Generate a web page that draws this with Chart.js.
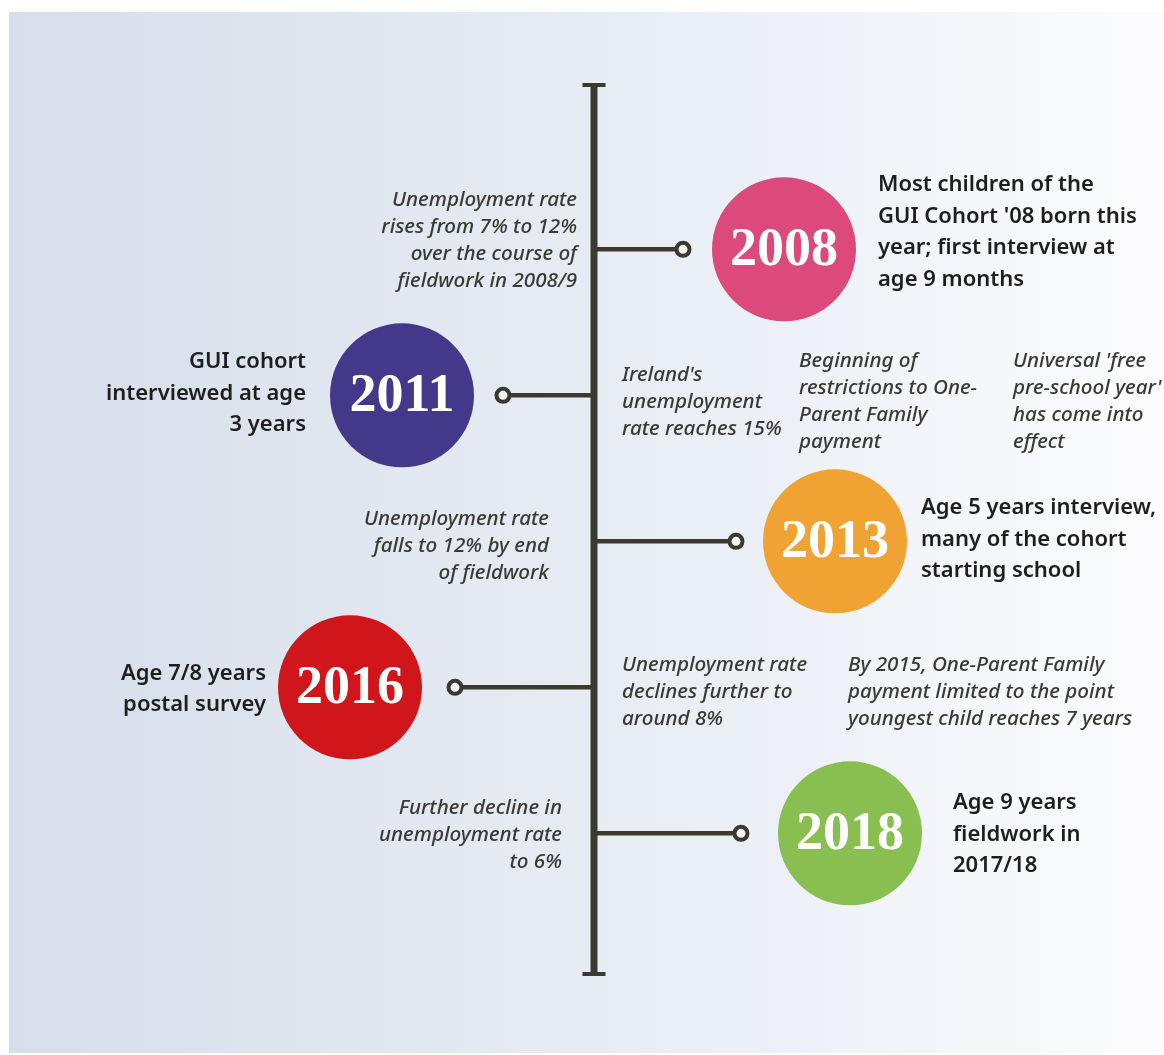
<!DOCTYPE html>
<html>
<head>
<meta charset="utf-8">
<title>GUI Cohort '08 timeline</title>
<script src="https://cdn.jsdelivr.net/npm/chart.js@4.4.1/dist/chart.umd.min.js"></script>
<style>
  body { margin: 0; background: #fff; }
  canvas { display: block; }
</style>
</head>
<body>
<canvas id="myCanvas" width="1164" height="1055"></canvas>
<script>
'use strict';

// --- timeline data ---
let years = ['2008', '2011', '2013', '2016', '2018'];
let yearColors = ['#dc4a7b', '#44388b', '#f0a232', '#d1161b', '#88bf50'];

let milestones = [
	['Most children of the', "GUI Cohort '08 born this", 'year; first interview at', 'age 9 months'],
	['GUI cohort', 'interviewed at age', '3 years'],
	['Age 5 years interview,', 'many of the cohort', 'starting school'],
	['Age 7/8 years', 'postal survey'],
	['Age 9 years', 'fieldwork in', '2017/18']
];

let contextNotes = [
	[['Unemployment rate', 'rises from 7% to 12%', 'over the course of', 'fieldwork in 2008/9']],
	[["Ireland's", 'unemployment', 'rate reaches 15%'],
	 ['Beginning of', 'restrictions to One-', 'Parent Family', 'payment'],
	 ["Universal 'free", "pre-school year'", 'has come into', 'effect']],
	[['Unemployment rate', 'falls to 12% by end', 'of fieldwork']],
	[['Unemployment rate', 'declines further to', 'around 8%'],
	 ['By 2015, One-Parent Family', 'payment limited to the point', 'youngest child reaches 7 years']],
	[['Further decline in', 'unemployment rate', 'to 6%']]
];

// --- layout (x in page units, spine in the middle) ---
let spineX = 594;
let side = [1, -1, 1, -1, 1];
let ringOffset = [89, 91, 142, 139, 147];
let discOffset = [190, 192, 241, 244, 256];
// milestone text: anchor x, vertical shift of block centre
let mileX = [878, 306, 921, 266, 953];
let mileDy = [-17, -2, -2, 2, 1];
// notes: [anchor x, align, dy] per block
let noteLayout = [
	[[577, 'right', -9]],
	[[622, 'left', 7], [799, 'left', 6], [1013, 'left', 6]],
	[[549, 'right', 5]],
	[[622, 'left', 5], [848, 'left', 5]],
	[[562, 'right', 2]]
];

let ink = '#3b3a2f';
let rows = years.map(function(y, i) { return i; });

let datasets = [];
rows.forEach(function(i) {
	datasets.push({
		type: 'line',
		data: [{x: spineX, y: i}, {x: spineX + side[i] * ringOffset[i], y: i}],
		borderColor: ink,
		borderWidth: 4.5,
		pointRadius: 0,
		order: 3
	});
});
datasets.push({
	type: 'scatter',
	data: rows.map(function(i) { return {x: spineX + side[i] * ringOffset[i], y: i}; }),
	pointRadius: 6.5,
	pointBackgroundColor: '#f3f5f9',
	pointBorderColor: ink,
	pointBorderWidth: 4,
	order: 2
});
datasets.push({
	type: 'scatter',
	data: rows.map(function(i) { return {x: spineX + side[i] * discOffset[i], y: i}; }),
	pointRadius: 72,
	pointBackgroundColor: yearColors,
	pointBorderWidth: 0,
	order: 1
});

let timeline = {
	id: 'timeline',
	beforeDraw: function(chart) {
		let c = chart.ctx;
		c.save();
		c.fillStyle = '#ffffff';
		c.fillRect(0, 0, chart.width, chart.height);
		let g = c.createLinearGradient(9, 0, 1164, 0);
		g.addColorStop(0, '#d5deea');
		g.addColorStop(0.35, '#e2e8f1');
		g.addColorStop(0.65, '#ecf0f6');
		g.addColorStop(1, '#fcfcfe');
		c.fillStyle = g;
		c.fillRect(9, 12, 1155, 1041);
		c.restore();
	},
	beforeDatasetsDraw: function(chart) {
		let c = chart.ctx;
		let x = chart.scales.x.getPixelForValue(spineX);
		c.save();
		c.fillStyle = ink;
		c.fillRect(x - 3.5, 83, 7, 893);
		c.fillRect(x - 11.5, 83, 23, 4);
		c.fillRect(x - 11.5, 972, 23, 4);
		c.restore();
	},
	afterDatasetsDraw: function(chart) {
		let c = chart.ctx;
		let sx = chart.scales.x, sy = chart.scales.y;
		c.save();
		c.textBaseline = 'middle';
		rows.forEach(function(i) {
			let cy = sy.getPixelForValue(i);
			// year in the disc
			c.fillStyle = '#ffffff';
			c.textAlign = 'center';
			c.font = 'bold 54px "Liberation Serif"';
			c.fillText(years[i], sx.getPixelForValue(spineX + side[i] * discOffset[i]), cy + 2);

			// milestone
			let lines = milestones[i];
			c.fillStyle = '#1e1e1e';
			c.font = '600 22px "Noto Sans"';
			c.textAlign = side[i] > 0 ? 'left' : 'right';
			let lh = 31.5;
			let top = cy + mileDy[i] - (lines.length - 1) * lh / 2;
			lines.forEach(function(t, k) {
				c.fillText(t, sx.getPixelForValue(mileX[i]), top + k * lh);
			});

			// context notes
			c.fillStyle = '#3a3a34';
			c.font = 'italic 500 20.6px "Noto Sans"';
			contextNotes[i].forEach(function(block, b) {
				let lay = noteLayout[i][b];
				c.textAlign = lay[1];
				let nh = 27;
				let t0 = cy + lay[2] - (block.length - 1) * nh / 2;
				block.forEach(function(t, k) {
					c.fillText(t, sx.getPixelForValue(lay[0]), t0 + k * nh);
				});
			});
		});
		c.restore();
	}
};

let ctx = document.getElementById('myCanvas').getContext('2d');
let myChart = new Chart(ctx, {
	type: 'scatter',
	data: { datasets: datasets },
	options: {
		responsive: false,
		animation: false,
		devicePixelRatio: 1,
		layout: { padding: 0, autoPadding: false },
		plugins: { legend: { display: false }, tooltip: { enabled: false } },
		scales: {
			x: { type: 'linear', display: false, min: 0, max: 1164 },
			y: { type: 'linear', display: false, reverse: true, min: -1.708, max: 5.518 }
		}
	},
	plugins: [timeline]
});
</script>
</body>
</html>
